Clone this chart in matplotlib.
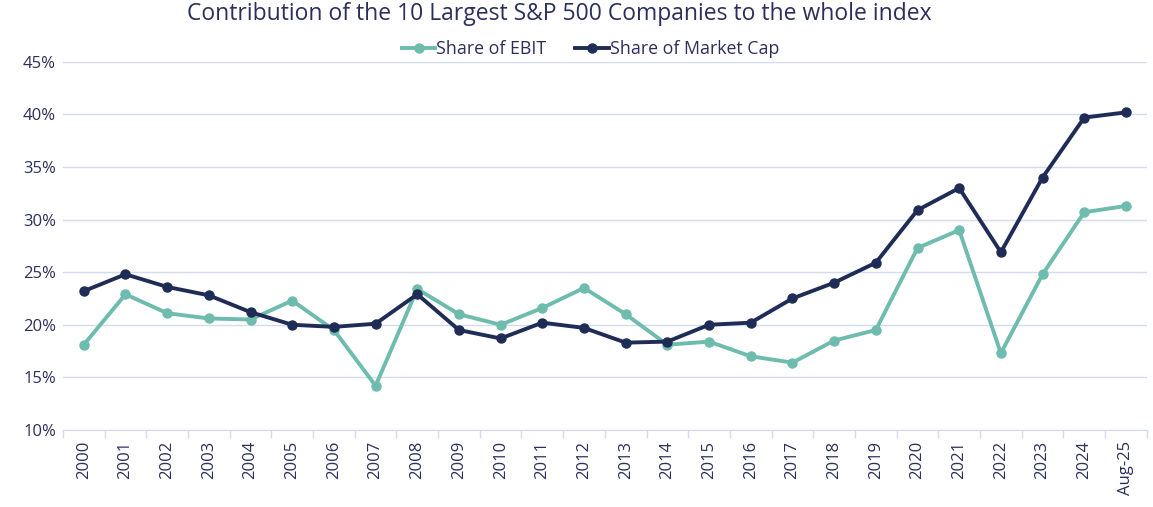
import numpy as np
import matplotlib.pyplot as plt
from matplotlib.ticker import FuncFormatter, FixedLocator

# Dados
anos = ['2000', '2001', '2002', '2003', '2004', '2005', '2006', '2007', '2008',
        '2009', '2010', '2011', '2012', '2013', '2014', '2015', '2016', '2017',
        '2018', '2019', '2020', '2021', '2022', '2023', '2024', 'Aug-25']
ebit = [18.1, 22.9, 21.1, 20.6, 20.5, 22.3, 19.5, 14.2, 23.4, 21.0, 20.0, 21.6,
        23.5, 21.0, 18.1, 18.4, 17.0, 16.4, 18.5, 19.5, 27.3, 29.0, 17.3, 24.8,
        30.7, 31.3]
market_cap = [23.2, 24.8, 23.6, 22.8, 21.2, 20.0, 19.8, 20.1, 22.9, 19.5, 18.7,
              20.2, 19.7, 18.3, 18.4, 20.0, 20.2, 22.5, 24.0, 25.9, 30.9, 33.0,
              26.9, 34.0, 39.7, 40.2]

cor_texto = '#2b2f5c'
cor_grade = '#d3dbee'
teal = '#6dbcad'
navy = '#1f2c55'

plt.rcParams['font.family'] = ['Open Sans', 'DejaVu Sans']

fig = plt.figure(figsize=(11.53, 5.07), dpi=100)
ax = fig.add_axes([0.0546, 0.152, 0.940, 0.726])

x = np.arange(len(anos))
ax.plot(x, ebit, color=teal, lw=2.8, marker='o', ms=6.5, label='Share of EBIT', zorder=3)
ax.plot(x, market_cap, color=navy, lw=2.8, marker='o', ms=6.5, label='Share of Market Cap', zorder=4)

ax.set_xlim(-0.5, len(anos) - 0.5)
ax.set_ylim(10, 45)
ax.set_yticks(np.arange(10, 46, 5))
ax.yaxis.set_major_formatter(FuncFormatter(lambda v, p: f'{v:.0f}%'))
ax.grid(axis='y', color=cor_grade, lw=1)
ax.set_axisbelow(True)

ax.set_xticks(x)
ax.set_xticklabels(anos, rotation=90)
ax.xaxis.set_minor_locator(FixedLocator(np.arange(-0.5, len(anos), 1)))
ax.tick_params(axis='x', which='major', length=0, pad=8, labelsize=12, colors=cor_texto)
ax.tick_params(axis='x', which='minor', length=6, color=cor_grade, width=1)
ax.tick_params(axis='y', length=0, pad=5, labelsize=12, colors=cor_texto)

for s in ['top', 'right', 'left']:
    ax.spines[s].set_visible(False)
ax.spines['bottom'].set_color(cor_grade)

fig.text(0.485, 0.973, 'Contribution of the 10 Largest S&P 500 Companies to the whole index',
         ha='center', va='center', fontsize=16.5, color=cor_texto)
fig.legend(loc='center', bbox_to_anchor=(0.512, 0.903), ncol=2, frameon=False,
           fontsize=12.8, labelcolor=cor_texto, handlelength=1.9, handletextpad=0.05,
           columnspacing=1.6)

fig.savefig('out.png', dpi=100)
